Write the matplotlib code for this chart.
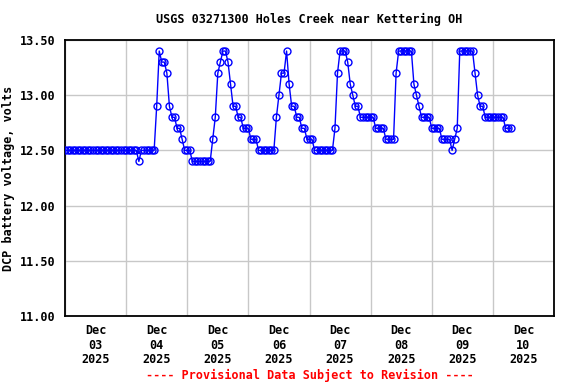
import matplotlib
matplotlib.use("Agg")
import matplotlib.pyplot as plt
import matplotlib.dates as mdates
import pandas as pd

# Hourly DCP battery voltage readings starting 2025-12-03 00:00
dec03 = [12.5] * 24
dec04 = [12.5] * 5 + [12.4] + [12.5] * 6 + [12.9, 13.4, 13.3, 13.3, 13.2, 12.9,
                                             12.8, 12.8, 12.7, 12.7, 12.6, 12.5]
dec05 = [12.5, 12.5] + [12.4] * 8 + [12.6, 12.8, 13.2, 13.3, 13.4, 13.4, 13.3,
                                     13.1, 12.9, 12.9, 12.8, 12.8, 12.7, 12.7]
dec06 = [12.7] + [12.6] * 3 + [12.5] * 7 + [12.8, 13.0, 13.2, 13.2, 13.4, 13.1,
                                            12.9, 12.9, 12.8, 12.8, 12.7, 12.7, 12.6]
dec07 = [12.6, 12.6] + [12.5] * 8 + [12.7, 13.2, 13.4, 13.4, 13.4, 13.3, 13.1,
                                     13.0, 12.9, 12.9] + [12.8] * 4
dec08 = [12.8] * 2 + [12.7] * 4 + [12.6] * 4 + [13.2] + [13.4] * 6 + [13.1, 13.0,
                                                                      12.9] + [12.8] * 4
dec09 = [12.7] * 4 + [12.6] * 4 + [12.5, 12.6, 12.7] + [13.4] * 6 + [13.2, 13.0,
                                                                    12.9, 12.9] + [12.8] * 3
dec10 = [12.8] * 5 + [12.7] * 3

values = dec03 + dec04 + dec05 + dec06 + dec07 + dec08 + dec09 + dec10
times = pd.date_range("2025-12-03 00:00", periods=len(values), freq="h")

title = "USGS 03271300 Holes Creek near Kettering OH"
ylabel = "DCP battery voltage, volts"
footer = "---- Provisional Data Subject to Revision ----"
yticks = [11.0, 11.5, 12.0, 12.5, 13.0, 13.5]

mono = "DejaVu Sans Mono"
fig = plt.figure(figsize=(5.76, 3.84), dpi=100)
ax = fig.add_axes([65 / 576, 1 - 316 / 384, (554 - 65) / 576, (316 - 40) / 384])

ax.plot(times, values, color="#0000ff", lw=1.0, marker="o", ms=5.0,
        mfc="none", mec="#0000ff", mew=1.0, zorder=3)

ax.set_xlim(pd.Timestamp("2025-12-03"), pd.Timestamp("2025-12-11"))
ax.set_ylim(11.0, 13.5)
ax.set_yticks(yticks)
ax.set_yticklabels([f"{v:.2f}" for v in yticks], fontfamily=mono,
                   fontweight="bold", fontsize=8.5)

ax.xaxis.set_major_locator(mdates.DayLocator())
ax.xaxis.set_major_formatter(plt.NullFormatter())
ax.xaxis.set_minor_locator(mdates.HourLocator(byhour=[12]))
ax.xaxis.set_minor_formatter(mdates.DateFormatter("Dec\n%d\n%Y"))
for lab in ax.xaxis.get_minorticklabels():
    lab.set_fontfamily(mono)
    lab.set_fontweight("bold")
    lab.set_fontsize(8.5)
    lab.set_linespacing(1.15)

ax.tick_params(axis="both", which="both", length=0)
ax.tick_params(axis="x", which="minor", pad=6)
ax.tick_params(axis="y", pad=7)

ax.grid(True, which="major", color="#c8c8c8", lw=1.0)
ax.set_axisbelow(True)
for s in ax.spines.values():
    s.set_color("black")
    s.set_linewidth(1.3)

ax.set_ylabel(ylabel, fontfamily=mono, fontweight="bold", fontsize=8.5, labelpad=3)
fig.text(309.5 / 576, 1 - 19 / 384, title, ha="center", va="center",
         fontfamily=mono, fontweight="bold", fontsize=8.5)
fig.text(309.5 / 576, 1 - 375 / 384, footer, ha="center", va="center",
         fontfamily=mono, fontweight="bold", fontsize=8.5, color="red")

fig.savefig("out.png", dpi=100)
